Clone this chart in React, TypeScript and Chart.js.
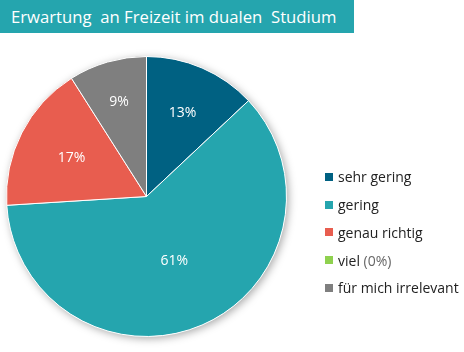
import React, { useEffect, useRef } from "react";
import { Chart, registerables } from "chart.js";

Chart.register(...registerables);

const title = "Erwartung  an Freizeit im dualen  Studium";
const categories = ["sehr gering", "gering", "genau richtig", "viel", "für mich irrelevant"];
const values = [13, 61, 17, 0, 9];
const colors = ["#006182", "#25a5ae", "#e85d4f", "#8fd14f", "#7f7f7f"];
const labelRadius = [0.65, 0.5, 0.6, 0.6, 0.7];

const FONT = "'Open Sans', 'DejaVu Sans', sans-serif";

const shadowPlugin = {
  id: "pieShadow",
  beforeDatasetsDraw(chart: any) {
    const meta = chart.getDatasetMeta(0);
    const arc = meta.data[0];
    if (!arc) return;
    const { x, y, outerRadius } = arc.getProps(["x", "y", "outerRadius"], true);
    const ctx = chart.ctx;
    ctx.save();
    ctx.shadowColor = "rgba(0,0,0,0.35)";
    ctx.shadowBlur = 8;
    ctx.shadowOffsetX = 2;
    ctx.shadowOffsetY = 2;
    ctx.fillStyle = "#ffffff";
    ctx.beginPath();
    ctx.arc(x, y, outerRadius, 0, Math.PI * 2);
    ctx.fill();
    ctx.restore();
  },
};

const labelPlugin = {
  id: "pieLabels",
  afterDatasetsDraw(chart: any) {
    const meta = chart.getDatasetMeta(0);
    const data = chart.data.datasets[0].data as number[];
    const total = data.reduce((a, b) => a + b, 0);
    const ctx = chart.ctx;
    ctx.save();
    ctx.fillStyle = "#ffffff";
    ctx.font = `14px ${FONT}`;
    ctx.textAlign = "center";
    ctx.textBaseline = "middle";
    meta.data.forEach((el: any, i: number) => {
      const v = data[i];
      if (!v) return;
      const { x, y, startAngle, endAngle, outerRadius } = el.getProps(
        ["x", "y", "startAngle", "endAngle", "outerRadius"],
        true
      );
      const mid = (startAngle + endAngle) / 2;
      const r = outerRadius * labelRadius[i];
      const pct = Math.round((v / total) * 100) + "%";
      ctx.fillText(pct, x + Math.cos(mid) * r, y + Math.sin(mid) * r);
    });
    ctx.restore();
  },
};

export default function App() {
  const ref = useRef<HTMLCanvasElement>(null);
  useEffect(() => {
    document.body.style.margin = "0";
    const chart = new Chart(ref.current!, {
      type: "pie",
      data: {
        labels: categories,
        datasets: [
          {
            data: values,
            backgroundColor: colors,
            borderColor: "#ffffff",
            borderWidth: 1,
          },
        ],
      },
      options: {
        animation: false,
        responsive: false,
        maintainAspectRatio: false,
        layout: { padding: { left: 6, right: 177, top: 56, bottom: 15 } },
        plugins: {
          legend: { display: false },
          tooltip: { enabled: false },
          title: { display: false },
        },
      },
      plugins: [shadowPlugin, labelPlugin],
    });
    return () => chart.destroy();
  }, []);

  return (
    <div style={{ position: "fixed", left: 0, top: 0, width: 464, height: 352, background: "#fff", overflow: "hidden" }}>
      <canvas ref={ref} width={464} height={352} style={{ position: "absolute", left: 0, top: 0 }} />
      <div
        style={{
          position: "absolute",
          left: 0,
          top: 0,
          width: 354,
          height: 33,
          background: "#25a5ae",
          color: "#ffffff",
          fontFamily: FONT,
          fontSize: 16.7,
          lineHeight: "33px",
          paddingLeft: 11,
          boxSizing: "border-box",
          whiteSpace: "pre",
        }}
      >
        {title}
      </div>
      <div style={{ position: "absolute", left: 325, top: 163, fontFamily: FONT, fontSize: 14, color: "#222222" }}>
        {categories.map((c, i) => (
          <div key={c} style={{ display: "flex", alignItems: "center", height: 27.75 }}>
            <span style={{ display: "inline-block", width: 8, height: 8, background: colors[i], marginRight: 5 }} />
            <span style={{ whiteSpace: "pre" }}>
              {c}
              {values[i] === 0 ? <span style={{ color: "#666666" }}> (0%)</span> : null}
            </span>
          </div>
        ))}
      </div>
    </div>
  );
}
